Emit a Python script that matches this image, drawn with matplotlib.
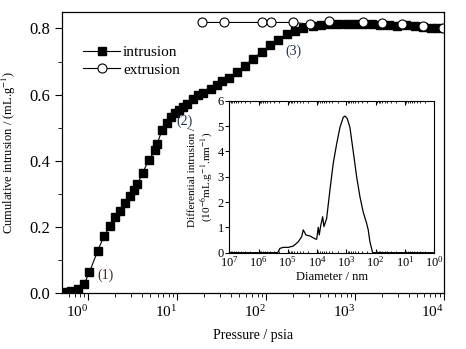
import numpy as np
import matplotlib
matplotlib.use('Agg')
import matplotlib.pyplot as plt
from matplotlib.ticker import LogLocator, MultipleLocator, NullFormatter

plt.rcParams['font.family'] = ['Liberation Serif', 'DejaVu Serif']
plt.rcParams['mathtext.fontset'] = 'stix'

#------------------------数据-----------------------------
# 压汞进汞曲线 (psia, mL/g)
p_in = [0.524, 0.634, 0.766, 0.895, 1.03, 1.27, 1.50, 1.75, 2.01, 2.27, 2.58, 2.94,
        3.29, 3.55, 4.08, 4.77, 5.66, 5.96, 6.73, 7.60, 8.43, 9.35, 10.4, 11.7, 12.9,
        14.9, 17.2, 19.6, 23.7, 27.7, 31.6, 38.4, 46.5, 57.6, 71.4, 88.8, 110, 136,
        170, 210, 261, 332, 408, 520, 645, 800, 993, 1230, 1530, 1900, 2410, 2920,
        3720, 4690, 5810, 7210, 8570]
v_in = [0.003, 0.007, 0.012, 0.027, 0.063, 0.127, 0.172, 0.202, 0.230, 0.249, 0.273, 0.293,
        0.311, 0.329, 0.363, 0.402, 0.432, 0.452, 0.492, 0.515, 0.531, 0.543, 0.553, 0.563, 0.573,
        0.588, 0.598, 0.606, 0.616, 0.628, 0.640, 0.649, 0.667, 0.687, 0.709, 0.729, 0.749, 0.764,
        0.782, 0.793, 0.800, 0.807, 0.810, 0.812, 0.812, 0.812, 0.812, 0.812, 0.812, 0.810, 0.810, 0.807,
        0.810, 0.807, 0.804, 0.802, 0.800]

# 退汞曲线
p_ex = [18.8, 33.5, 88.8, 112, 198, 310, 510, 1210, 2010, 3320, 5720, 9600]
v_ex = [0.818, 0.818, 0.818, 0.818, 0.818, 0.813, 0.821, 0.818, 0.815, 0.813, 0.808, 0.800]

# 孔径分布 (nm, 10^-6 mL/g/nm)
d_log = [7.0, 5.40, 5.348, 5.27, 5.157, 4.986, 4.816, 4.645, 4.529, 4.474, 4.382, 4.246,
         4.075, 4.017, 3.962, 3.928, 3.881, 3.812, 3.768, 3.676, 3.563, 3.451, 3.334,
         3.222, 3.109, 3.051, 2.973, 2.881, 2.768, 2.652, 2.539, 2.427, 2.311, 2.256,
         2.198, 2.106, 0.0]
dv = [0.0, 0.0, 0.0, 0.17, 0.21, 0.21, 0.26, 0.43, 0.63, 0.90, 0.70, 0.66,
      0.55, 0.53, 1.00, 0.70, 1.05, 1.42, 1.03, 1.35, 2.48, 3.53, 4.30,
      4.95, 5.35, 5.40, 5.30, 4.95, 4.00, 3.00, 2.21, 1.60, 1.16, 0.90,
      0.43, 0.0, 0.0]
diam = [10 ** x for x in d_log]

#------------------------主图-----------------------------
fig = plt.figure(figsize=(4.66, 3.49), dpi=100)
ax = fig.add_axes([0.133, 0.160, 0.820, 0.806])

ax.plot(p_in, v_in, '-', color='black', lw=0.8, marker='s', ms=5.5,
        mfc='black', mec='black', label='intrusion')
ax.plot(p_ex, v_ex, '-', color='black', lw=0.8, marker='o', ms=6.5,
        mfc='white', mec='black', mew=0.8, label='extrusion')

ax.set_xscale('log')
ax.set_xlim(0.506, 1e4)
ax.set_ylim(0, 0.85)
ax.yaxis.set_major_locator(MultipleLocator(0.2))
ax.yaxis.set_minor_locator(MultipleLocator(0.1))
ax.yaxis.set_major_formatter(plt.FormatStrFormatter('%.1f'))
ax.xaxis.set_major_locator(LogLocator(base=10, numticks=10))
ax.xaxis.set_minor_locator(LogLocator(base=10, subs=np.arange(2, 10), numticks=20))
ax.xaxis.set_minor_formatter(NullFormatter())
ax.tick_params(which='both', direction='out', top=False, right=False)
ax.tick_params(axis='y', labelsize=12)
ax.tick_params(axis='x', labelsize=11, pad=3)
ax.tick_params(which='major', length=5, width=0.8)
ax.tick_params(which='minor', length=3, width=0.6)
for s in ax.spines.values():
    s.set_linewidth(0.9)
fig.canvas.draw()
for lab in ax.get_xticklabels():
    lab.set_ha('right')

ax.set_xlabel('Pressure / psia', fontsize=10, labelpad=6)
ax.set_ylabel('Cumulative intrusion / (mL.g$^{-1}$)', fontsize=9, labelpad=8)

ax.legend(loc='upper left', bbox_to_anchor=(0.02, 0.93), frameon=False,
          fontsize=11, handlelength=2.4, handletextpad=0.2, labelspacing=0.25)

ax.text(1.55, 0.054, '(1)', fontsize=10, color='#3a2a20', ha='center', va='center')
ax.text(12.0, 0.52, '(2)', fontsize=10, color='#20304a', ha='center', va='center')
ax.text(205, 0.73, '(3)', fontsize=10, color='#20304a', ha='center', va='center')

#------------------------内嵌图-----------------------------
ins = fig.add_axes([0.492, 0.276, 0.440, 0.435])
ins.plot(diam, dv, '-', color='black', lw=0.9)
ins.set_xscale('log')
ins.set_xlim(1e7, 1e0)
ins.set_ylim(0, 6)
ins.yaxis.set_major_locator(MultipleLocator(1))
ins.xaxis.set_major_locator(LogLocator(base=10, numticks=10))
ins.xaxis.set_minor_locator(LogLocator(base=10, subs=np.arange(2, 10), numticks=20))
ins.xaxis.set_minor_formatter(NullFormatter())
ins.tick_params(axis='y', which='both', direction='out', length=3, labelsize=9, pad=1)
ins.tick_params(axis='x', which='both', direction='in', top=True, labelsize=9, pad=2)
ins.tick_params(axis='x', which='major', length=3)
ins.tick_params(axis='x', which='minor', length=1.5)
for s in ins.spines.values():
    s.set_linewidth(0.8)
ins.set_xlabel('Diameter / nm', fontsize=9, labelpad=1)
ins.set_ylabel('Differential intrusion /\n(10$^{-6}$mL.g$^{-1}$.nm$^{-1}$)',
               fontsize=8, labelpad=2, linespacing=1.1)

fig.savefig('out.png', dpi=100)
